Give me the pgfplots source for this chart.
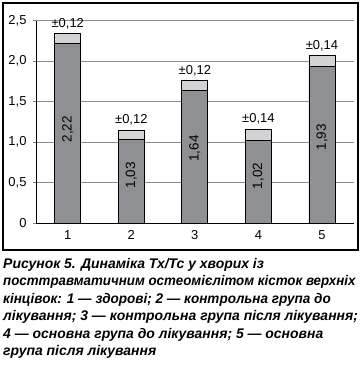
\documentclass[border=0pt]{standalone}
\usepackage{fontspec}
\setmainfont{Liberation Sans}
\usepackage{pgfplots}
\pgfplotsset{compat=1.18}
\definecolor{barDark}{HTML}{8F9094}
\definecolor{barLight}{HTML}{D3D3D5}
\definecolor{gridgray}{HTML}{8C8C8C}
\begin{document}
\begin{tikzpicture}[x=1bp,y=1bp]
\useasboundingbox (-36,-142) rectangle (328,223);
\draw[line width=1.2pt] (-33,-27) rectangle (322,220);
\begin{axis}[
  at={(0,0)}, anchor=south west,
  scale only axis, width=317.7bp, height=202.3bp,
  xmin=0.5, xmax=5.5, ymin=0, ymax=2.5,
  axis x line*=bottom, axis y line*=left, axis line style={-, line width=0.8pt},
  xtick={1,2,3,4,5}, xtick style={draw=none},
  minor xtick={0.5,1.5,2.5,3.5,4.5,5.5},
  minor x tick style={line width=0.8pt},
  minor tick length=5bp,
  ytick={0,0.5,1,1.5,2,2.5},
  yticklabels={0,{0,5},{1,0},{1,5},{2,0},{2,5}},
  major tick length=3bp,
  y tick style={line width=0.8pt},
  tick align=outside,
  ymajorgrids, major grid style={gridgray, line width=0.7pt},
  ticklabel style={font=\fontsize{13}{15}\selectfont},
  /pgf/number format/assume math mode=true,
  yticklabel style={xshift=-3bp},
  xticklabel style={yshift=-1bp},
  clip=false,
]
\addplot[ybar, bar width=26bp, fill=barLight, draw=black, line width=0.8pt,
  nodes near coords, point meta=explicit symbolic,
  nodes near coords style={font=\fontsize{13}{15}\selectfont, anchor=south, yshift=1bp, black}]
  table[meta=lab] {
x y lab
1 2.34 {±0,12}
2 1.15 {±0,12}
3 1.76 {±0,12}
4 1.16 {±0,14}
5 2.07 {±0,14}
};
\addplot[ybar, bar width=26bp, fill=barDark, draw=black, line width=0.8pt]
  coordinates {(1,2.22) (2,1.03) (3,1.64) (4,1.02) (5,1.93)};
\addplot[draw=none, nodes near coords, point meta=explicit symbolic,
  nodes near coords style={font=\fontsize{13.5}{15}\selectfont, rotate=90, anchor=center, black}]
  table[meta=lab] {
x y lab
1 1.16 {2,22}
2 0.59 {1,03}
3 0.92 {1,64}
4 0.58 {1,02}
5 1.06 {1,93}
};
\end{axis}
\node[anchor=north west, align=left, inner sep=0pt, font=\fontsize{14}{17.6}\selectfont\bfseries\itshape]
  at (-33,-35) {Рисунок 5. Динаміка Тх/Тс у хворих із\\
\scalebox{0.955}[1]{посттравматичним остеомієлітом кісток верхніх}\\
\scalebox{0.97}[1]{кінцівок: 1 — здорові; 2 — контрольна група до}\\
лікування; 3 — контрольна група після лікування;\\
4 — основна група до лікування; 5 — основна\\
група після лікування};
\end{tikzpicture}
\end{document}
